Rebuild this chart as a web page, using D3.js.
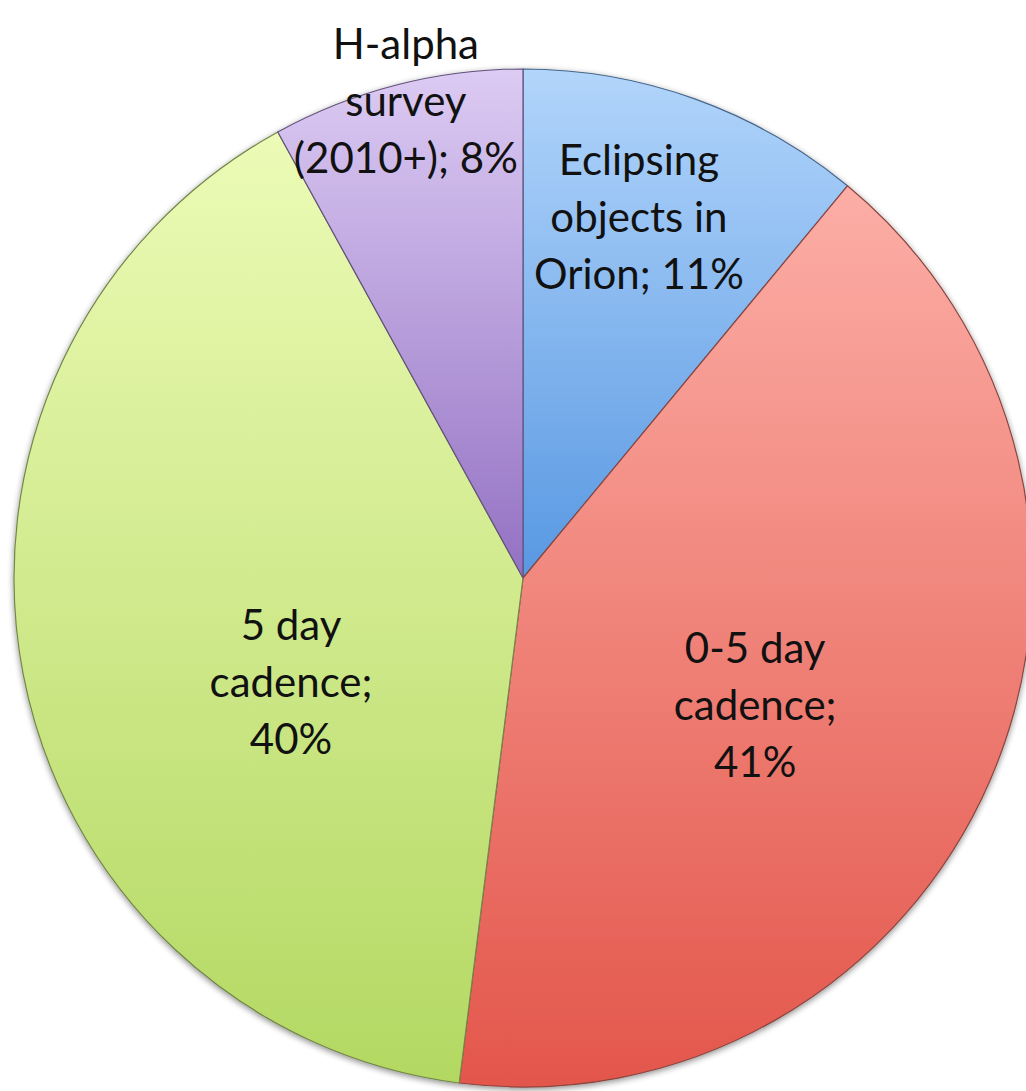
<!DOCTYPE html>
<html lang="en">
<head>
<meta charset="UTF-8">
<title>Variability survey pie</title>
<script src="https://d3js.org/d3.v7.min.js"></script>
<style>
  html, body { margin: 0; padding: 0; background: #fff; }
  svg { display: block; }
  text { font-family: Lato, "Open Sans", sans-serif; font-size: 42px; fill: #111; }
</style>
</head>
<body>
<script>
// slices, clockwise from 12 o'clock
const labels = [
  ["Eclipsing", "objects in", "Orion; 11%"],
  ["0-5 day", "cadence;", "41%"],
  ["5 day", "cadence;", "40%"],
  ["H-alpha", "survey", "(2010+); 8%"]
];
const shares = [11, 41, 40, 8];
const topColors = ["#b2d5fb", "#fcaea6", "#ecfbb6", "#dccbf3"];
const bottomColors = ["#5898e2", "#e3564b", "#b3d862", "#9371c3"];

const width = 1026, height = 1091;
const cx = 523, cy = 578, radius = 509;

const svg = d3.select("body").append("svg")
  .attr("width", width)
  .attr("height", height);

const defs = svg.append("defs");

// soft shadow under the pie
const shadow = defs.append("filter").attr("id", "shadow")
  .attr("x", "-10%").attr("y", "-10%").attr("width", "120%").attr("height", "120%");
shadow.append("feGaussianBlur").attr("in", "SourceAlpha").attr("stdDeviation", 3);
shadow.append("feOffset").attr("dx", 0).attr("dy", 2).attr("result", "off");
shadow.append("feComponentTransfer").append("feFuncA").attr("type", "linear").attr("slope", 0.45);
const merge = shadow.append("feMerge");
merge.append("feMergeNode");
merge.append("feMergeNode").attr("in", "SourceGraphic");

shares.forEach((d, i) => {
  const g = defs.append("linearGradient").attr("id", "grad" + i)
    .attr("x1", 0).attr("y1", 0).attr("x2", 0).attr("y2", 1);
  g.append("stop").attr("offset", "0%").attr("stop-color", topColors[i]);
  g.append("stop").attr("offset", "100%").attr("stop-color", bottomColors[i]);
});

const pie = d3.pie().sort(null).value(d => d);
const arcs = pie(shares);
const arc = d3.arc().innerRadius(0).outerRadius(radius);

const chart = svg.append("g").attr("transform", `translate(${cx},${cy})`);

chart.append("g").attr("filter", "url(#shadow)")
  .selectAll("path")
  .data(arcs)
  .join("path")
  .attr("d", arc)
  .attr("fill", (d, i) => `url(#grad${i})`)
  .attr("stroke", (d, i) => d3.interpolateRgb(bottomColors[i], "#333")(0.5))
  .attr("stroke-width", 1.2)
  .attr("stroke-linejoin", "round");

// label placement: angle shift (deg) and radius fraction per slice (best-fit style)
const labelLayout = [
  { shift: -2, r: 0.745 },
  { shift: 5.3, r: 0.52 },
  { shift: -13.5, r: 0.5 },
  { shift: 0.6, r: 0.965 }
];
const lineGap = 57;

chart.append("g")
  .selectAll("text")
  .data(arcs)
  .join("text")
  .attr("text-anchor", "middle")
  .each(function (d, i) {
    const mid = (d.startAngle + d.endAngle) / 2 + labelLayout[i].shift * Math.PI / 180;
    const r = radius * labelLayout[i].r;
    const x = Math.sin(mid) * r;
    const y = -Math.cos(mid) * r;
    const lines = labels[i];
    d3.select(this).selectAll("tspan")
      .data(lines)
      .join("tspan")
      .attr("x", x)
      .attr("y", (t, k) => y + (k - (lines.length - 1) / 2) * lineGap)
      .attr("dy", "0.35em")
      .text(t => t);
  });
</script>
</body>
</html>
